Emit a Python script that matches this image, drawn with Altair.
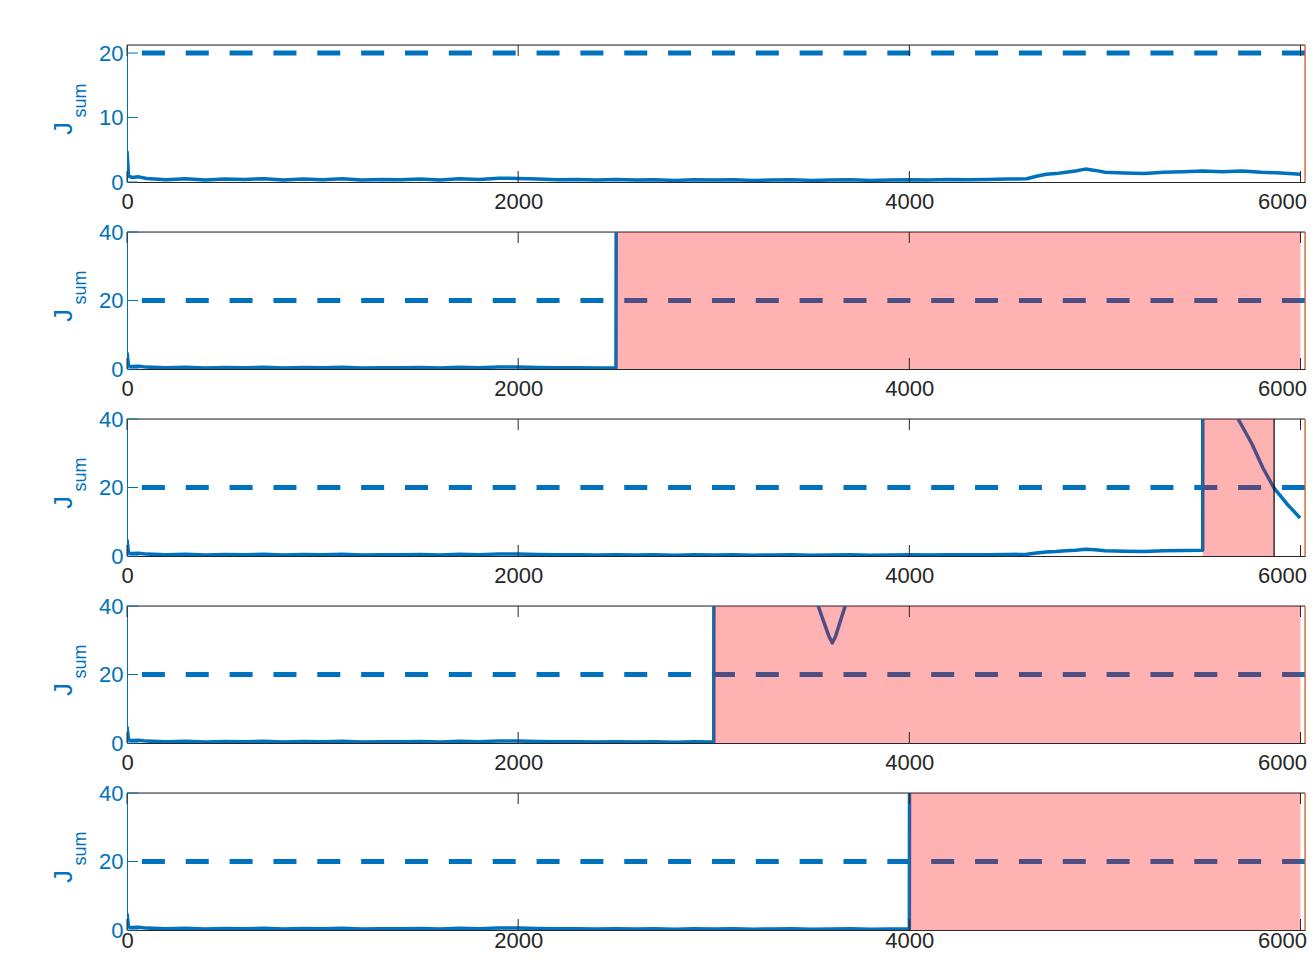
import altair as alt
import pandas as pd

BLUE = "#0072BD"
ORANGE = "#D95319"
DARK = "#262626"
RED = "#FF0000"
FONT = "Liberation Sans"

X_MAX = 6023
X_TICKS = [0, 2000, 4000, 6000]
THRESHOLD = 20
TITLE_MAIN = "J"
TITLE_SUB = "sum"

# healthy part of the residual signal (shared start of every run)
BASE_T = [0, 8, 25, 60, 100, 200, 300, 400, 500, 600, 700, 800, 900, 1000,
          1100, 1200, 1300, 1400, 1500, 1600, 1700, 1800, 1900, 2000,
          2100, 2200, 2300, 2400, 2500, 2600, 2700, 2800, 2900, 3000,
          3100, 3200, 3300, 3400, 3500, 3600, 3700, 3800, 3900, 4000,
          4100, 4200, 4300, 4400, 4500]
BASE_J = [4.8, 0.9, 0.7, 0.8, 0.55, 0.35, 0.5, 0.3, 0.45, 0.4, 0.5, 0.3, 0.45, 0.35,
          0.5, 0.3, 0.4, 0.35, 0.45, 0.3, 0.5, 0.4, 0.6, 0.55,
          0.45, 0.35, 0.4, 0.3, 0.4, 0.3, 0.35, 0.25, 0.35, 0.3,
          0.35, 0.25, 0.3, 0.35, 0.25, 0.3, 0.35, 0.25, 0.3, 0.35,
          0.3, 0.4, 0.35, 0.4, 0.45]
# slowly rising part after t = 4600
LATE_T = [4600, 4650, 4700, 4750, 4800, 4850, 4900, 4950, 5000, 5100, 5200,
          5300, 5400, 5500, 5600, 5700, 5800, 5900, 6000]
LATE_J = [0.5, 0.9, 1.2, 1.3, 1.5, 1.7, 2.0, 1.8, 1.5, 1.4, 1.3,
          1.5, 1.6, 1.7, 1.6, 1.7, 1.5, 1.4, 1.2]

# post-fault segments (values above 40 are clipped)
FAULT2_T = [2508, 6000]
FAULT2_J = [300, 300]
FAULT3_T = [5502, 5640, 5681, 5752, 5808, 5865, 5931, 5998]
FAULT3_J = [300, 44.5, 40, 32.7, 25.7, 19.8, 15.2, 11.1]
FAULT4_T = [3003, 3480, 3534, 3590, 3606, 3622, 3672, 3730, 6000]
FAULT4_J = [300, 52, 40, 31, 29.2, 31, 40, 52, 300]
FAULT5_T = [4006, 6000]
FAULT5_J = [300, 300]

ALARM_START = [None, 2505, 5500, 3000, 4003]
ALARM_END = [None, 6000, 5865, 6000, 6000]
RECOVERY = [None, None, 5865, None, None]

Y_MAX = [21.25, 40, 40, 40, 40]
Y_TICKS = [[0, 10, 20], [0, 20, 40], [0, 20, 40], [0, 20, 40], [0, 20, 40]]


def series(t_list, j_list, t_end=None):
    return [(t, j) for t, j in zip(t_list, j_list) if t_end is None or t <= t_end]


RUNS = [
    series(BASE_T, BASE_J) + series(LATE_T, LATE_J),
    series(BASE_T, BASE_J, 2500) + series(FAULT2_T, FAULT2_J),
    series(BASE_T, BASE_J) + series(LATE_T, LATE_J, 5500) + series(FAULT3_T, FAULT3_J),
    series(BASE_T, BASE_J, 3000) + series(FAULT4_T, FAULT4_J),
    series(BASE_T, BASE_J, 4000) + series(FAULT5_T, FAULT5_J),
]

W = 1178
H = 137
TICK = 11
XLAB_PAD = [9, 9, 9, 9, 0]
LAST_TICK = X_TICKS[-1]


def panel(i):
    xs = alt.Scale(domain=[0, X_MAX], nice=False, zero=False)
    ys = alt.Scale(domain=[0, Y_MAX[i]], nice=False, zero=False)
    df = pd.DataFrame(RUNS[i], columns=["t", "J"])
    df["order"] = range(len(df))

    xaxis = alt.Axis(values=X_TICKS, labelFontSize=22, labelFont=FONT, labelColor=DARK,
                     domainColor=DARK, domainWidth=1, ticks=False, grid=False, title=None,
                     labelPadding=XLAB_PAD[i], labelFlush=False, labelOverlap=False, format="d",
                     labelAlign={"condition": {"test": f"datum.value == {LAST_TICK}", "value": "right"},
                                 "value": "center"},
                     labelOffset={"condition": {"test": f"datum.value == {LAST_TICK}", "value": 6},
                                  "value": 0})
    yaxis = alt.Axis(values=Y_TICKS[i], labelFontSize=22, labelFont=FONT, labelColor=BLUE,
                     domainColor=BLUE, domainWidth=1, ticks=False, grid=False, title=None,
                     labelPadding=4, format="d")

    line = alt.Chart(df).mark_line(color=BLUE, strokeWidth=3.5, clip=True,
                                   strokeJoin="round").encode(
        x=alt.X("t:Q", scale=xs, axis=xaxis),
        y=alt.Y("J:Q", scale=ys, axis=yaxis),
        order="order:Q",
    )
    thr = alt.Chart(pd.DataFrame({"thr": [THRESHOLD]})).mark_rule(
        color=BLUE, strokeWidth=5, strokeDash=[23, 20.85]).encode(
        y=alt.Y("thr:Q", scale=ys, axis=yaxis))
    top = alt.Chart(pd.DataFrame({"top": [Y_MAX[i]]})).mark_rule(
        color=DARK, strokeWidth=1).encode(y=alt.Y("top:Q", scale=ys, axis=yaxis))
    layers = [top, line, thr]

    if ALARM_START[i] is not None:
        band = alt.Chart(pd.DataFrame({"a": [ALARM_START[i]], "b": [ALARM_END[i]]})).mark_rect(
            color=RED, opacity=0.3).encode(
            x=alt.X("a:Q", scale=xs, axis=xaxis), x2="b:Q")
        layers.append(band)
    if RECOVERY[i] is not None:
        rec = alt.Chart(pd.DataFrame({"r": [RECOVERY[i]]})).mark_rule(
            color="black", strokeWidth=1.2).encode(x=alt.X("r:Q", scale=xs, axis=xaxis))
        layers.append(rec)

    right = alt.Chart(pd.DataFrame({"r": [X_MAX]})).mark_rule(
        color=ORANGE, strokeWidth=1.2).encode(x=alt.X("r:Q", scale=xs, axis=xaxis))
    layers.append(right)

    xt = pd.DataFrame({"t": X_TICKS})
    xt_bot = alt.Chart(xt).mark_rule(color=DARK, strokeWidth=1).encode(
        x=alt.X("t:Q", scale=xs, axis=xaxis), y=alt.value(H), y2=alt.value(H - TICK))
    xt_top = alt.Chart(xt).mark_rule(color=DARK, strokeWidth=1).encode(
        x=alt.X("t:Q", scale=xs, axis=xaxis), y=alt.value(0), y2=alt.value(TICK))
    yt = alt.Chart(pd.DataFrame({"v": Y_TICKS[i]})).mark_rule(color=BLUE, strokeWidth=1).encode(
        y=alt.Y("v:Q", scale=ys, axis=yaxis), x=alt.value(0), x2=alt.value(TICK))
    layers += [xt_bot, xt_top, yt]

    tmain = alt.Chart(pd.DataFrame({"s": [TITLE_MAIN]})).mark_text(
        angle=270, align="center", baseline="middle", font=FONT, fontSize=25, color=BLUE).encode(
        text="s:N", x=alt.value(-63), y=alt.value(H / 2 + 15))
    tsub = alt.Chart(pd.DataFrame({"s": [TITLE_SUB]})).mark_text(
        angle=270, align="center", baseline="middle", font=FONT, fontSize=18, color=BLUE).encode(
        text="s:N", x=alt.value(-46), y=alt.value(H / 2 - 13))
    layers += [tmain, tsub]

    return alt.layer(*layers).properties(width=W, height=H)


chart = alt.vconcat(*[panel(i) for i in range(5)], spacing=50, bounds="flush").properties(
    padding={"left": 43, "top": 33, "right": 0, "bottom": 0}
).configure_view(stroke=DARK, strokeWidth=1).configure(background="white")

chart.save("out.html", embed_options={"renderer": "svg", "actions": False})
